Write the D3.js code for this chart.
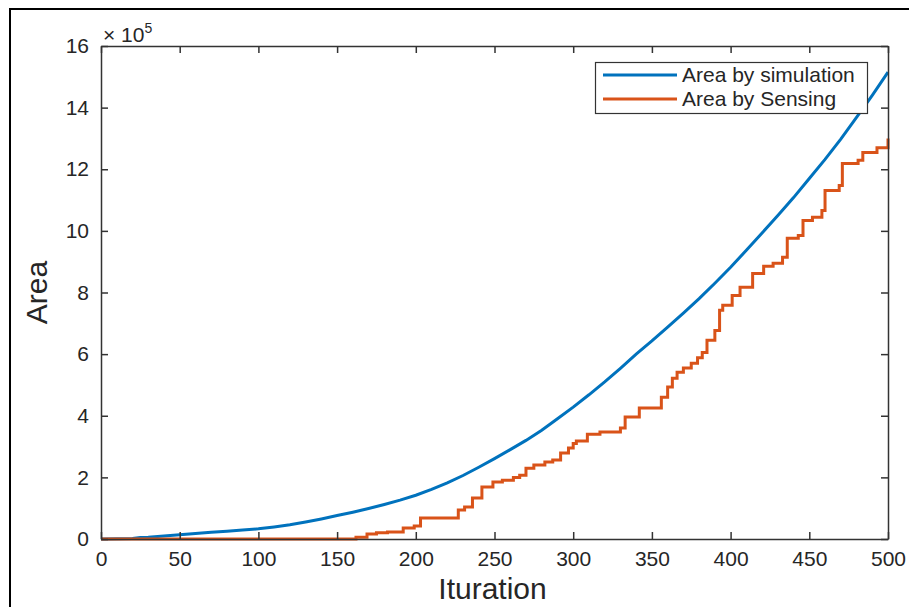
<!DOCTYPE html>
<html>
<head>
<meta charset="utf-8">
<script src="https://cdn.jsdelivr.net/npm/d3@7"></script>
<style>
  body { margin: 0; background: #fff; }
  text { font-family: "Liberation Sans", Arial, sans-serif; fill: #262626; }
</style>
</head>
<body>
<svg id="chart" width="909" height="607"></svg>
<script>
// values are in units of 10^5
const simIter = [0, 20, 25, 30, 40, 50, 60, 70, 80, 90, 100, 110, 120, 130, 140, 150, 160, 170,
  180, 190, 200, 210, 220, 230, 240, 250, 260, 270, 280, 290, 300, 310, 320, 330, 340, 350, 360,
  370, 380, 390, 400, 410, 420, 430, 440, 450, 460, 470, 480, 490, 500];
const simArea = [0, 0.02, 0.05, 0.06, 0.1, 0.14, 0.18, 0.22, 0.25, 0.29, 0.33, 0.39, 0.46, 0.55,
  0.65, 0.76, 0.87, 0.99, 1.12, 1.26, 1.42, 1.61, 1.82, 2.06, 2.33, 2.61, 2.9, 3.2, 3.53, 3.9, 4.28,
  4.68, 5.1, 5.54, 6.0, 6.43, 6.88, 7.33, 7.8, 8.3, 8.82, 9.37, 9.93, 10.5, 11.08, 11.7, 12.32,
  12.98, 13.68, 14.4, 15.15];

const senseIter = [0, 162, 169, 175, 182, 192, 199, 203, 227, 231, 236, 242, 249, 255, 262, 266,
  270, 275, 282, 287, 292, 297, 300, 302, 309, 317, 330, 333, 342, 356, 360, 363, 366, 370, 375,
  379, 382, 385, 390, 393, 395, 401, 406, 414, 421, 427, 433, 436, 443, 446, 452, 458, 460, 469,
  471, 481, 484, 493, 500];
const senseArea = [0, 0.06, 0.16, 0.2, 0.23, 0.36, 0.42, 0.68, 0.94, 1.04, 1.33, 1.69, 1.85, 1.91,
  2.0, 2.07, 2.3, 2.4, 2.5, 2.56, 2.79, 2.95, 3.1, 3.18, 3.4, 3.47, 3.6, 3.96, 4.25, 4.6, 4.93,
  5.22, 5.41, 5.55, 5.7, 5.88, 6.05, 6.45, 6.77, 7.42, 7.59, 7.9, 8.17, 8.62, 8.85, 8.95, 9.14,
  9.76, 9.85, 10.34, 10.44, 10.66, 11.31, 11.47, 12.19, 12.29, 12.54, 12.7, 13.0];

const xTicks = [0, 50, 100, 150, 200, 250, 300, 350, 400, 450, 500];
const yTicks = [0, 2, 4, 6, 8, 10, 12, 14, 16];
const seriesNames = ["Area by simulation", "Area by Sensing"];
const colors = ["#0072BD", "#D95319"];

const svg = d3.select("#chart");
const plotL = 101, plotR = 888, plotT = 46, plotB = 539;

const x = d3.scaleLinear().domain([0, 500]).range([plotL, plotR]);
const y = d3.scaleLinear().domain([0, 16]).range([plotB, plotT]);

// outer figure frame
svg.append("rect")
  .attr("x", 10).attr("y", 9).attr("width", 1000).attr("height", 1000)
  .attr("fill", "none").attr("stroke", "#000").attr("stroke-width", 2);

const simData = simIter.map((d, i) => [d, simArea[i]]);
const senseData = senseIter.map((d, i) => [d, senseArea[i]]);

svg.append("path")
  .datum(simData)
  .attr("fill", "none")
  .attr("stroke", colors[0])
  .attr("stroke-width", 3)
  .attr("d", d3.line().x(d => x(d[0])).y(d => y(d[1])));

svg.append("path")
  .datum(senseData)
  .attr("fill", "none")
  .attr("stroke", colors[1])
  .attr("stroke-width", 3)
  .attr("d", d3.line().curve(d3.curveStepAfter).x(d => x(d[0])).y(d => y(d[1])));

// axes, ticks inward on all four sides
const tickLen = 7;
const axisColor = "#333";
svg.append("g").attr("transform", `translate(0,${plotB})`)
  .call(d3.axisBottom(x).tickValues(xTicks).tickSizeInner(-tickLen).tickSizeOuter(0).tickPadding(12))
  .call(g => g.selectAll("text").attr("font-size", 21).attr("dy", "0.71em"));
svg.append("g").attr("transform", `translate(0,${plotT})`)
  .call(d3.axisTop(x).tickValues(xTicks).tickSizeInner(-tickLen).tickSizeOuter(0).tickFormat(""));
svg.append("g").attr("transform", `translate(${plotL},0)`)
  .call(d3.axisLeft(y).tickValues(yTicks).tickSizeInner(-tickLen).tickSizeOuter(0).tickPadding(12))
  .call(g => g.selectAll("text").attr("font-size", 21));
svg.append("g").attr("transform", `translate(${plotR},0)`)
  .call(d3.axisRight(y).tickValues(yTicks).tickSizeInner(-tickLen).tickSizeOuter(0).tickFormat(""));

svg.selectAll(".domain").attr("stroke", axisColor).attr("stroke-width", 1.5);
svg.selectAll(".tick line").attr("stroke", axisColor).attr("stroke-width", 1.5);
svg.selectAll(".tick text").attr("fill", "#262626").attr("font-family", "Liberation Sans, Arial, sans-serif");

// exponent label
const expo = svg.append("text").attr("x", 103).attr("y", 42).attr("font-size", 21);
expo.append("tspan").text("\u00d7 10");
expo.append("tspan").attr("font-size", 14).attr("dy", -9).text("5");

// axis titles
svg.append("text")
  .attr("x", (plotL + plotR) / 2 - 2).attr("y", 599)
  .attr("text-anchor", "middle").attr("font-size", 30)
  .text("Ituration");
svg.append("text")
  .attr("transform", `translate(47,${(plotT + plotB) / 2}) rotate(-90)`)
  .attr("text-anchor", "middle").attr("font-size", 30)
  .text("Area");

// legend
const legend = svg.append("g");
legend.append("rect")
  .attr("x", 595.5).attr("y", 62.5).attr("width", 272).attr("height", 51)
  .attr("fill", "#fff").attr("stroke", "#333").attr("stroke-width", 1.2);
seriesNames.forEach((name, i) => {
  const ly = 75 + i * 24;
  legend.append("line")
    .attr("x1", 603).attr("x2", 677).attr("y1", ly).attr("y2", ly)
    .attr("stroke", colors[i]).attr("stroke-width", 3);
  legend.append("text")
    .attr("x", 682).attr("y", ly).attr("dy", "0.35em")
    .attr("font-size", 21)
    .text(name);
});
</script>
</body>
</html>
